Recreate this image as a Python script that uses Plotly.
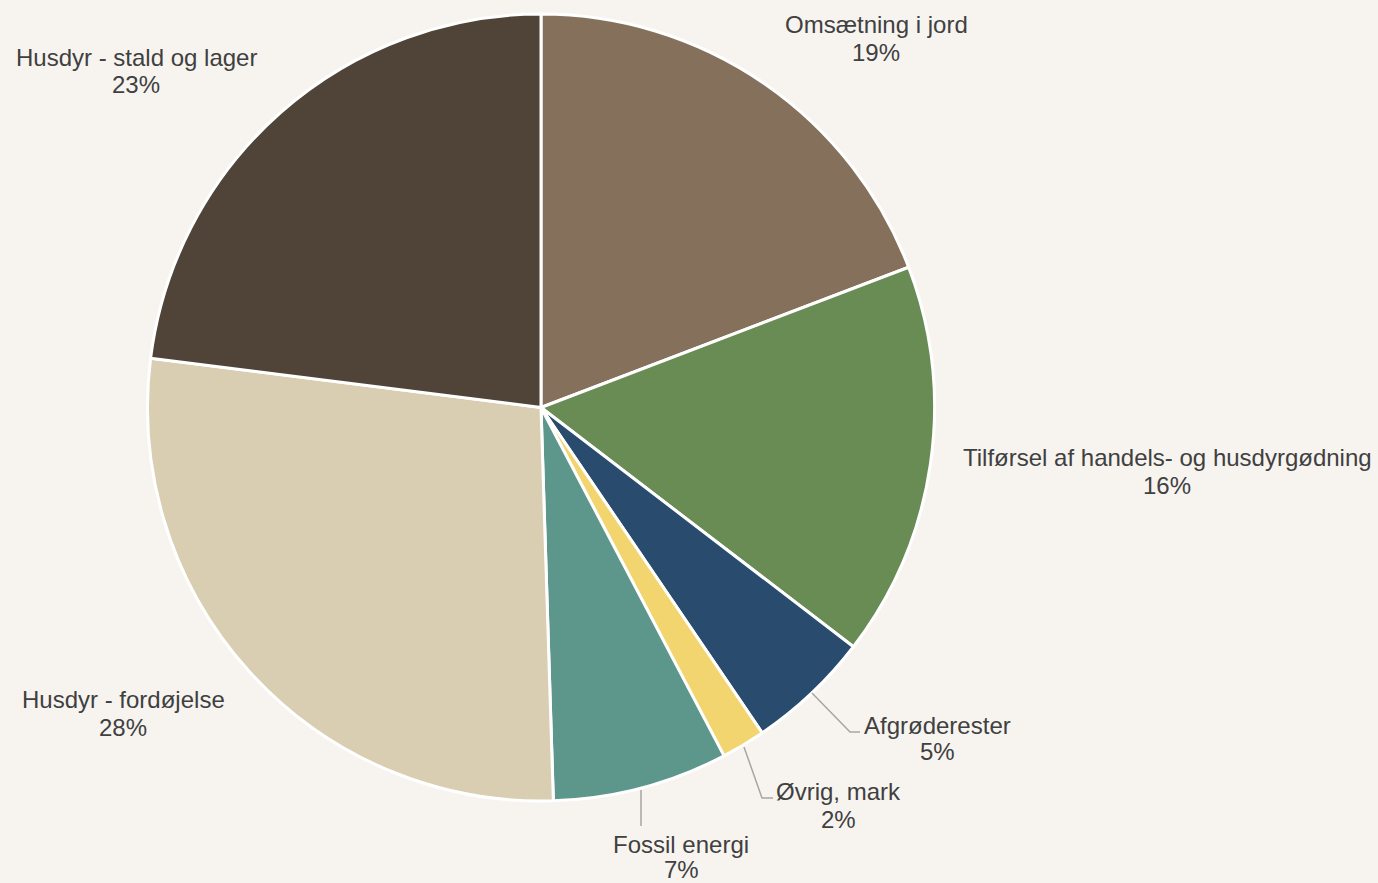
import plotly.graph_objects as go

# Data
categories = [
    "Omsætning i jord",
    "Tilførsel af handels- og husdyrgødning",
    "Afgrøderester",
    "Øvrig, mark",
    "Fossil energi",
    "Husdyr - fordøjelse",
    "Husdyr - stald og lager",
]
values = [19.2, 16.2, 5.1, 1.8, 7.2, 27.5, 23.0]
colors = ["#85705B", "#698C55", "#284B6E", "#F2D56E", "#5D968B", "#D9CEB2", "#4F4437"]

W, H = 1378, 883
BG = "#F7F4F0"
TXT = "#404040"
FONT = "Liberation Sans, Arial, sans-serif"

# layout geometry (pixels)
cx, cy, r = 541, 407.5, 393.5

def px(x):
    return x / W

def py(y):
    return 1 - y / H

fig = go.Figure(go.Pie(
    labels=categories,
    values=values,
    sort=False,
    direction="clockwise",
    rotation=0,
    marker=dict(colors=colors, line=dict(color="#FFFFFF", width=3)),
    textinfo="none",
    hoverinfo="label+percent",
    domain=dict(x=[px(cx - r), px(cx + r)], y=[py(cy + r), py(cy - r)]),
    showlegend=False,
))

# label placement (pixel centres of name line and percent line)
label_pos = [
    (876, 24, 53),
    (1167, 457, 485),
    (937, 725, 751),
    (838, 791, 819),
    (681, 844, 869),
    (123, 699, 727),
    (136, 57, 84),
]

total = sum(values)
annotations = []
for cat, v, (lx, ly1, ly2) in zip(categories, values, label_pos):
    pct = f"{v / total * 100:.0f}%"
    for txt, yy in ((cat, ly1), (pct, ly2)):
        annotations.append(dict(
            x=px(lx), y=py(yy), xref="paper", yref="paper",
            text=txt, showarrow=False, xanchor="center", yanchor="middle",
            font=dict(family=FONT, size=24, color=TXT),
        ))

# leader lines
leaders = [
    [(812, 693), (850, 732), (860, 732)],
    [(744, 747), (762, 798), (773, 798)],
    [(641, 790), (641, 826)],
]
shapes = []
for pts in leaders:
    path = "M " + " L ".join(f"{px(x)},{py(y)}" for x, y in pts)
    shapes.append(dict(type="path", xref="paper", yref="paper", path=path,
                       line=dict(color="#A6A6A6", width=1.5)))

fig.update_layout(
    width=W, height=H,
    margin=dict(l=0, r=0, t=0, b=0),
    paper_bgcolor=BG, plot_bgcolor=BG,
    annotations=annotations,
    shapes=shapes,
    font=dict(family=FONT, color=TXT),
)

fig.write_html("out.html")
